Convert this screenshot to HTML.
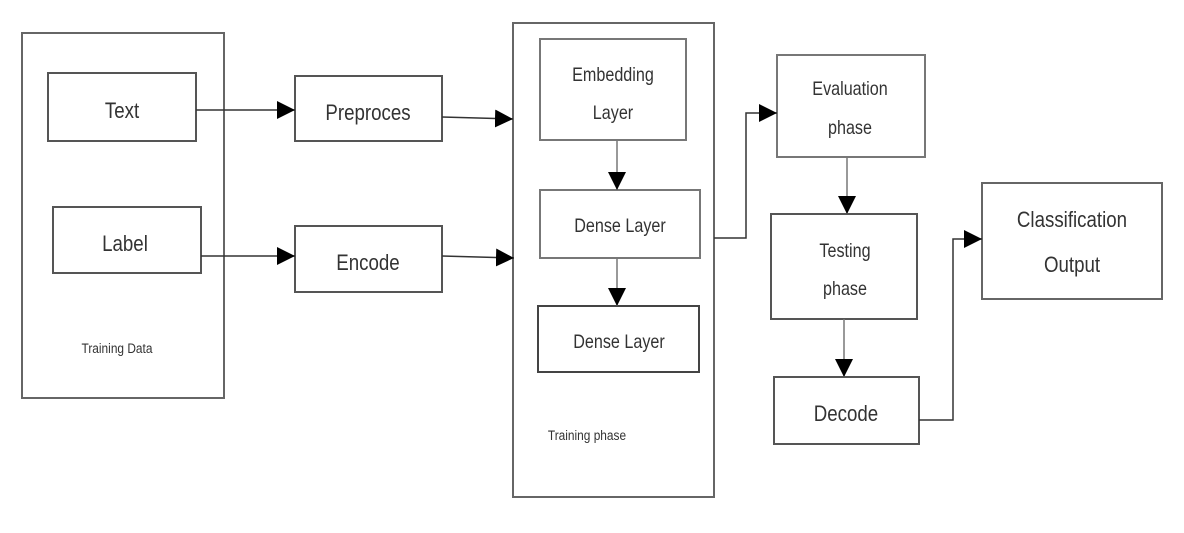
<!DOCTYPE html>
<html><head><meta charset="utf-8"><style>
html,body{margin:0;padding:0;background:#fff;}
body{width:1184px;height:528px;overflow:hidden;}
svg text{font-family:"Liberation Sans",sans-serif;fill:#333;}
</style></head><body>
<svg width="1184" height="528" viewBox="0 0 1184 528" xmlns="http://www.w3.org/2000/svg">
<defs>
<marker id="b" markerWidth="18" markerHeight="18" refX="18" refY="9" orient="auto" markerUnits="userSpaceOnUse" viewBox="0 0 18 18"><path d="M0,0 L18,9 L0,18 z" fill="#000"/></marker></defs>
<g fill="none" stroke="#666" stroke-width="2">
<rect x="22" y="33" width="202" height="365"/>
<rect x="48" y="73" width="148" height="68" stroke="#555"/>
<rect x="53" y="207" width="148" height="66" stroke="#555"/>
<rect x="295" y="76" width="147" height="65" stroke="#555"/>
<rect x="295" y="226" width="147" height="66" stroke="#555"/>
<rect x="513" y="23" width="201" height="474"/>
<rect x="540" y="39" width="146" height="101" stroke="#777"/>
<rect x="540" y="190" width="160" height="68" stroke="#777"/>
<rect x="538" y="306" width="161" height="66" stroke="#444"/>
<rect x="777" y="55" width="148" height="102" stroke="#777"/>
<rect x="771" y="214" width="146" height="105" stroke="#555"/>
<rect x="774" y="377" width="145" height="67" stroke="#555"/>
<rect x="982" y="183" width="180" height="116" stroke="#666"/>
</g>
<g fill="none" stroke="#333" stroke-width="1.5">
<line x1="196" y1="110" x2="295" y2="110" marker-end="url(#b)"/>
<line x1="201" y1="256" x2="295" y2="256" marker-end="url(#b)"/>
<line x1="442" y1="117" x2="513" y2="119" marker-end="url(#b)"/>
<line x1="442" y1="256" x2="514" y2="258" marker-end="url(#b)"/>
<line x1="617" y1="141" x2="617" y2="190" marker-end="url(#b)" stroke="#777"/>
<line x1="617" y1="258" x2="617" y2="306" marker-end="url(#b)" stroke="#777"/>
<polyline points="714,238 746,238 746,113 777,113" marker-end="url(#b)"/>
<line x1="847" y1="157" x2="847" y2="214" marker-end="url(#b)" stroke="#777"/>
<line x1="844" y1="319" x2="844" y2="377" marker-end="url(#b)" stroke="#777"/>
<polyline points="919,420 953,420 953,239 982,239" marker-end="url(#b)"/>
</g>
<g font-size="22" text-anchor="middle">
<text x="122" y="118" transform="translate(122,0) scale(0.85,1) translate(-122,0)">Text</text>
<text x="125" y="251" transform="translate(125,0) scale(0.85,1) translate(-125,0)">Label</text>
<text x="368" y="120" transform="translate(368,0) scale(0.85,1) translate(-368,0)">Preproces</text>
<text x="368" y="270" transform="translate(368,0) scale(0.85,1) translate(-368,0)">Encode</text>
<text x="846" y="421" transform="translate(846,0) scale(0.85,1) translate(-846,0)">Decode</text>
<text x="1072" y="227" transform="translate(1072,0) scale(0.85,1) translate(-1072,0)">Classification</text>
<text x="1072" y="272" transform="translate(1072,0) scale(0.85,1) translate(-1072,0)">Output</text>
</g>
<g font-size="19" text-anchor="middle">
<text x="613" y="81" transform="translate(613,0) scale(0.85,1) translate(-613,0)">Embedding</text>
<text x="613" y="119" transform="translate(613,0) scale(0.85,1) translate(-613,0)">Layer</text>
<text x="620" y="232" transform="translate(620,0) scale(0.85,1) translate(-620,0)">Dense Layer</text>
<text x="619" y="348" transform="translate(619,0) scale(0.85,1) translate(-619,0)">Dense Layer</text>
<text x="850" y="95" transform="translate(850,0) scale(0.85,1) translate(-850,0)">Evaluation</text>
<text x="850" y="134" transform="translate(850,0) scale(0.85,1) translate(-850,0)">phase</text>
<text x="845" y="257" transform="translate(845,0) scale(0.85,1) translate(-845,0)">Testing</text>
<text x="845" y="295" transform="translate(845,0) scale(0.85,1) translate(-845,0)">phase</text>
</g>
<g font-size="14" text-anchor="middle">
<text x="117" y="353" transform="translate(117,0) scale(0.85,1) translate(-117,0)">Training Data</text>
<text x="587" y="440" transform="translate(587,0) scale(0.85,1) translate(-587,0)">Training phase</text>
</g>
</svg>
</body></html>
